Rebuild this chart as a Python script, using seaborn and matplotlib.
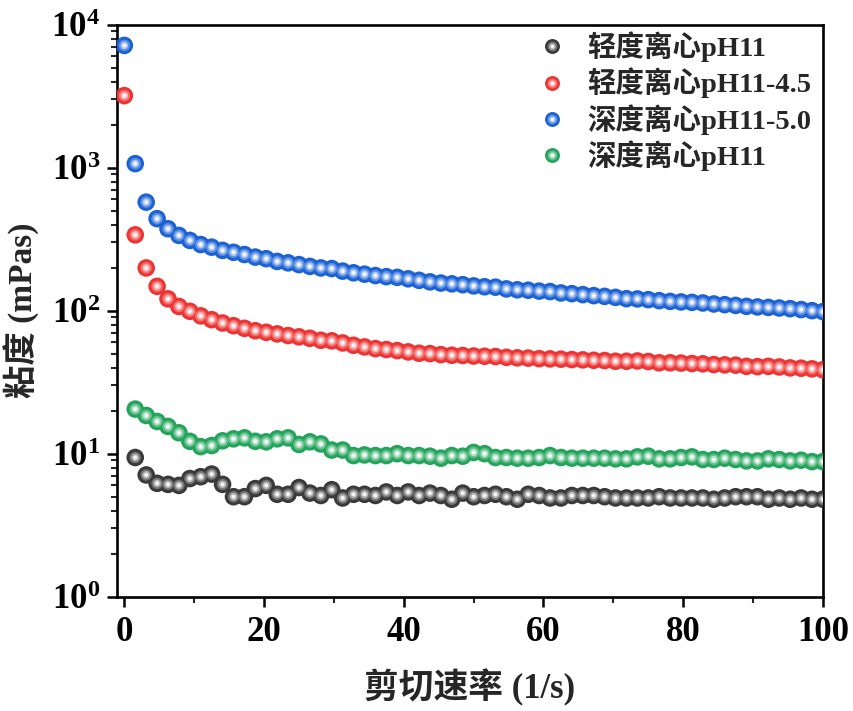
import numpy as np
import pandas as pd
import matplotlib
matplotlib.use("Agg")
import matplotlib.pyplot as plt
import matplotlib.colors as mcolors
from matplotlib.lines import Line2D
from matplotlib.legend_handler import HandlerTuple
from matplotlib.ticker import LogLocator, FuncFormatter, MultipleLocator, NullFormatter
import seaborn as sns

# ---------------- data ----------------
shear_rate = [0, 1.56, 3.13, 4.69, 6.25, 7.81, 9.38, 10.94, 12.5, 14.06, 15.63, 17.19,
              18.75, 20.31, 21.88, 23.44, 25, 26.56, 28.13, 29.69, 31.25, 32.81, 34.38,
              35.94, 37.5, 39.06, 40.63, 42.19, 43.75, 45.31, 46.88, 48.44, 50, 51.56,
              53.13, 54.69, 56.25, 57.81, 59.38, 60.94, 62.5, 64.06, 65.63, 67.19, 68.75,
              70.31, 71.88, 73.44, 75, 76.56, 78.13, 79.69, 81.25, 82.81, 84.38, 85.94,
              87.5, 89.06, 90.63, 92.19, 93.75, 95.31, 96.88, 98.44, 100]

series_names = ["轻度离心pH11", "轻度离心pH11-4.5", "深度离心pH11-5.0", "深度离心pH11"]

# 轻度离心pH11 (starts at second shear rate)
visc_light = [9.4, 7.1, 6.2, 6.1, 6.0, 6.7, 6.9, 7.2, 6.1, 5.0, 5.0, 5.7, 6.0, 5.2, 5.2,
              5.8, 5.3, 5.1, 5.6, 4.9, 5.2, 5.2, 5.1, 5.4, 5.1, 5.4, 5.1, 5.3, 5.1, 4.8,
              5.3, 5.0, 5.1, 5.2, 5.0, 4.8, 5.2, 5.1, 4.9, 4.9, 5.1, 5.1, 5.1, 5.0, 4.9,
              4.9, 4.9, 4.9, 5.0, 4.9, 4.9, 4.9, 4.9, 4.8, 4.9, 5.0, 5.0, 5.0, 4.8, 4.9,
              4.8, 4.9, 4.8, 4.8]
# 轻度离心pH11-4.5
visc_light_45 = [3190, 339, 199, 148, 121, 107, 99, 92, 86.5, 82, 78.5, 75.3, 72.4, 70.6,
                 68.8, 67.0, 65.6, 64.1, 62.1, 61.5, 59.5, 57.3, 55.8, 54.3, 53.5, 52.6,
                 51.5, 50.4, 50.1, 49.3, 48.8, 48.6, 48.2, 48.0, 47.8, 47.2, 46.8, 46.6,
                 46.2, 46.0, 45.8, 45.5, 45.3, 45.0, 44.8, 44.3, 44.3, 44.5, 44.1, 43.2,
                 43.2, 43.0, 42.7, 42.5, 42.0, 41.8, 41.6, 40.8, 40.6, 40.8, 40.4, 39.8,
                 39.6, 39.2, 38.6]
# 深度离心pH11-5.0
visc_deep_50 = [7160, 1067, 574, 440, 374, 336, 310, 290, 278, 264, 256, 247, 237, 231,
                221, 216, 210, 204, 199, 197, 189, 184, 180, 176, 173, 171, 167, 163, 159,
                156, 154, 152, 149, 147, 146, 142, 140, 139, 137, 136, 133, 131.5, 129.5,
                127.4, 125.9, 123.9, 121.3, 120.8, 119.4, 117.5, 116.1, 115.1, 114.3,
                113.2, 111.4, 110.2, 108.9, 107.2, 106.2, 105.4, 104.4, 103.3, 101.8,
                100.0, 98.5]
# 深度离心pH11 (starts at second shear rate)
visc_deep = [20.5, 18.5, 16.8, 15.5, 14.0, 12.2, 11.2, 11.4, 12.3, 12.7, 12.9, 12.2, 12.1,
             12.7, 12.9, 11.6, 12.1, 11.7, 10.6, 10.6, 9.7, 9.8, 9.7, 9.7, 10.0, 9.7, 9.7,
             9.6, 9.3, 9.7, 9.6, 10.2, 10.0, 9.4, 9.4, 9.3, 9.3, 9.4, 9.7, 9.4, 9.3, 9.3,
             9.3, 9.3, 9.2, 9.2, 9.5, 9.6, 9.2, 9.2, 9.4, 9.5, 9.1, 9.1, 9.3, 9.1, 8.9,
             8.9, 9.2, 9.1, 8.9, 9.0, 8.8, 8.8]

series_values = [visc_light, visc_light_45, visc_deep_50, visc_deep]
base_colors = ["#3a3a3a", "#ee3333", "#1a62d6", "#22a45a"]

rows = []
for name, vals in zip(series_names, series_values):
    xs = shear_rate[len(shear_rate) - len(vals):]
    for xv, yv in zip(xs, vals):
        rows.append({"rate": xv, "visc": yv, "series": name})
df = pd.DataFrame(rows)

# ---------------- style ----------------
sns.set_style("ticks")
plt.rcParams["font.family"] = ["Liberation Serif", "Noto Sans CJK SC"]
plt.rcParams["font.weight"] = "bold"
plt.rcParams["axes.labelweight"] = "bold"
plt.rcParams["mathtext.fontset"] = "custom"
plt.rcParams["mathtext.rm"] = "Liberation Serif:bold"
plt.rcParams["mathtext.bf"] = "Liberation Serif:bold"
plt.rcParams["mathtext.it"] = "Liberation Serif:bold"

fig = plt.figure(figsize=(8.54, 7.11), dpi=100)
ax = fig.add_axes([0.1366, 0.1608, 0.827, 0.8045])


def mix(c, f):
    r, g, b = mcolors.to_rgb(c)
    return (r + (1 - r) * f, g + (1 - g) * f, b + (1 - b) * f)


S = 160
layers = [(1.0, 0.0), (0.42, 0.3), (0.18, 0.65), (0.05, 0.95)]
for size_f, white_f in layers:
    pal = {n: mix(c, white_f) for n, c in zip(series_names, base_colors)}
    sns.scatterplot(data=df, x="rate", y="visc", hue="series", hue_order=series_names,
                    palette=pal, s=S * size_f, edgecolor="none", linewidth=0,
                    legend=False, ax=ax, zorder=3)

ax.set_yscale("log")
ax.set_ylim(1, 1e4)
ax.set_xlim(-1.1, 100)

ax.xaxis.set_major_locator(MultipleLocator(20))
ax.xaxis.set_minor_locator(MultipleLocator(10))
ax.yaxis.set_major_locator(LogLocator(base=10, numticks=10))
ax.yaxis.set_minor_locator(LogLocator(base=10, subs=np.arange(2, 10), numticks=20))
ax.yaxis.set_minor_formatter(NullFormatter())
ax.yaxis.set_major_formatter(FuncFormatter(lambda v, p: r"$\mathbf{10^{%d}}$" % int(round(np.log10(v)))))

for sp in ax.spines.values():
    sp.set_linewidth(1.9)
    sp.set_color("black")
ax.tick_params(axis="both", which="major", direction="out", length=7, width=1.8,
               labelsize=25, colors="black", top=False, right=False)
ax.tick_params(axis="x", which="major", pad=7)
ax.tick_params(axis="y", which="major", pad=5)
ax.tick_params(axis="both", which="minor", direction="out", length=4, width=1.5,
               top=False, right=False)
for lab in ax.get_xticklabels() + ax.get_yticklabels():
    lab.set_fontweight("bold")

ax.set_xlabel("剪切速率 (1/s)", fontsize=25, fontweight="bold", labelpad=14)
ax.set_ylabel("粘度 (mPas)", fontsize=24, fontweight="bold", labelpad=8)

# legend with shaded balls
handles = []
for c in base_colors:
    parts = tuple(Line2D([], [], linestyle="none", marker="o",
                         markersize=np.sqrt(S * sf) * 0.85,
                         markerfacecolor=mix(c, wf), markeredgecolor="none")
                  for sf, wf in layers)
    handles.append(parts)
leg = ax.legend(handles, series_names, handler_map={tuple: HandlerTuple(ndivide=1)},
                loc="upper right", bbox_to_anchor=(1.008, 1.018), frameon=False,
                prop={"size": 20.5, "weight": "bold"}, labelspacing=0.2,
                handletextpad=0.55, handlelength=1.4, borderaxespad=0.2)

fig.savefig("out.png", dpi=100)
